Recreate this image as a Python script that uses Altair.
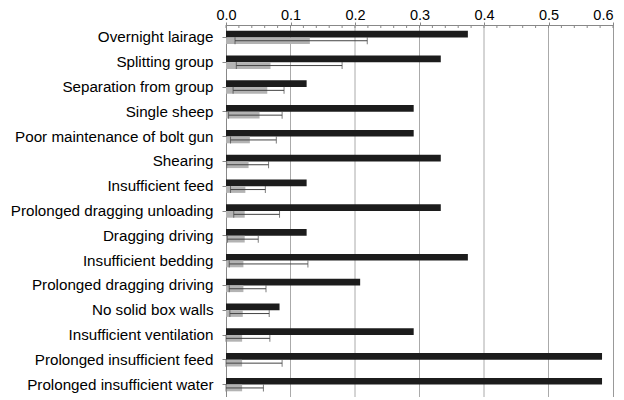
import altair as alt
import pandas as pd

categories = [
    "Overnight lairage", "Splitting group", "Separation from group", "Single sheep",
    "Poor maintenance of bolt gun", "Shearing", "Insufficient feed",
    "Prolonged dragging unloading", "Dragging driving", "Insufficient bedding",
    "Prolonged dragging driving", "No solid box walls", "Insufficient ventilation",
    "Prolonged insufficient feed", "Prolonged insufficient water",
]
black_values = [0.375, 0.333, 0.125, 0.291, 0.291, 0.333, 0.125, 0.333, 0.125,
                0.375, 0.208, 0.083, 0.291, 0.583, 0.583]
gray_values = [0.130, 0.069, 0.064, 0.052, 0.037, 0.035, 0.030, 0.029, 0.029,
               0.027, 0.027, 0.026, 0.025, 0.025, 0.025]
err_low = [0.014, 0.016, 0.011, 0.004, 0.007, 0.001, 0.007, 0.012, 0.002,
           0.005, 0.005, 0.006, 0.0, 0.0, 0.0]
err_high = [0.219, 0.180, 0.090, 0.087, 0.078, 0.066, 0.061, 0.083, 0.050,
            0.127, 0.062, 0.067, 0.068, 0.087, 0.058]
major_ticks = [0.0, 0.1, 0.2, 0.3, 0.4, 0.5, 0.6]
minor_ticks = [round(i * 0.02, 2) for i in range(31)]
grid_lines = [0.1, 0.2, 0.3, 0.4, 0.5]

rows = []
for c, b, g in zip(categories, black_values, gray_values):
    rows.append({"cat": c, "series": "A", "value": b})
    rows.append({"cat": c, "series": "B", "value": g})
bars_df = pd.DataFrame(rows)
err_df = pd.DataFrame({"cat": categories, "series": ["B"] * len(categories),
                       "low": err_low, "high": err_high})

font = "Liberation Sans"
yenc = alt.Y("cat:N", sort=categories, title=None,
             scale=alt.Scale(paddingInner=0.46, paddingOuter=0.23),
             axis=alt.Axis(labelFontSize=15.2, labelFont=font, labelColor="black",
                           tickSize=4, tickColor="#888", labelPadding=9,
                           labelLimit=0, domainColor="#888"))
yoff = alt.YOffset("series:N", scale=alt.Scale(domain=["A", "B"], paddingInner=0, paddingOuter=0))
xscale = alt.Scale(domain=[0, 0.6], nice=False)

bars = alt.Chart(bars_df).mark_bar().encode(
    x=alt.X("value:Q", scale=xscale, title=None,
            axis=alt.Axis(orient="top", values=major_ticks, format=".1f",
                          labelFontSize=14.5, labelFont=font, labelColor="black",
                          labelAlign={"condition": {"test": "datum.value >= 0.59", "value": "right"},
                                      "value": "center"},
                          tickSize=3, tickColor="#888", domainColor="#888",
                          grid=False, labelPadding=0, labelFlush=False,
                          labelOverlap=False, labelBound=False)),
    y=yenc,
    yOffset=yoff,
    color=alt.Color("series:N", scale=alt.Scale(domain=["A", "B"], range=["#1c1c1c", "#b3b3b3"]),
                    legend=None),
)

grid = alt.Chart(pd.DataFrame({"g": grid_lines})).mark_rule(
    color="#aaaaaa", strokeWidth=1).encode(x=alt.X("g:Q", scale=xscale))

minor = alt.Chart(pd.DataFrame({"t": minor_ticks})).mark_rule(
    color="#888", strokeWidth=1).encode(
    x=alt.X("t:Q", scale=xscale), y=alt.value(0), y2=alt.value(3))

rule = alt.Chart(err_df).mark_rule(color="#444", strokeWidth=1).encode(
    x=alt.X("low:Q", scale=xscale), x2="high:Q", y=alt.Y("cat:N", sort=categories), yOffset=yoff)
tick_lo = alt.Chart(err_df).mark_tick(color="#444", thickness=1, size=7).encode(
    x=alt.X("low:Q", scale=xscale), y=alt.Y("cat:N", sort=categories), yOffset=yoff)
tick_hi = alt.Chart(err_df).mark_tick(color="#444", thickness=1, size=7).encode(
    x=alt.X("high:Q", scale=xscale), y=alt.Y("cat:N", sort=categories), yOffset=yoff)

chart = alt.layer(grid, minor, bars, rule, tick_lo, tick_hi).properties(
    width=387, height=372,
    autosize=alt.AutoSizeParams(type="none"),
    padding={"left": 218, "top": 17, "right": 3, "bottom": 0},
).configure_view(stroke="#999", strokeWidth=1).configure_axis(grid=False)

chart.save("out.html", embed_options={"renderer": "svg", "actions": False})
